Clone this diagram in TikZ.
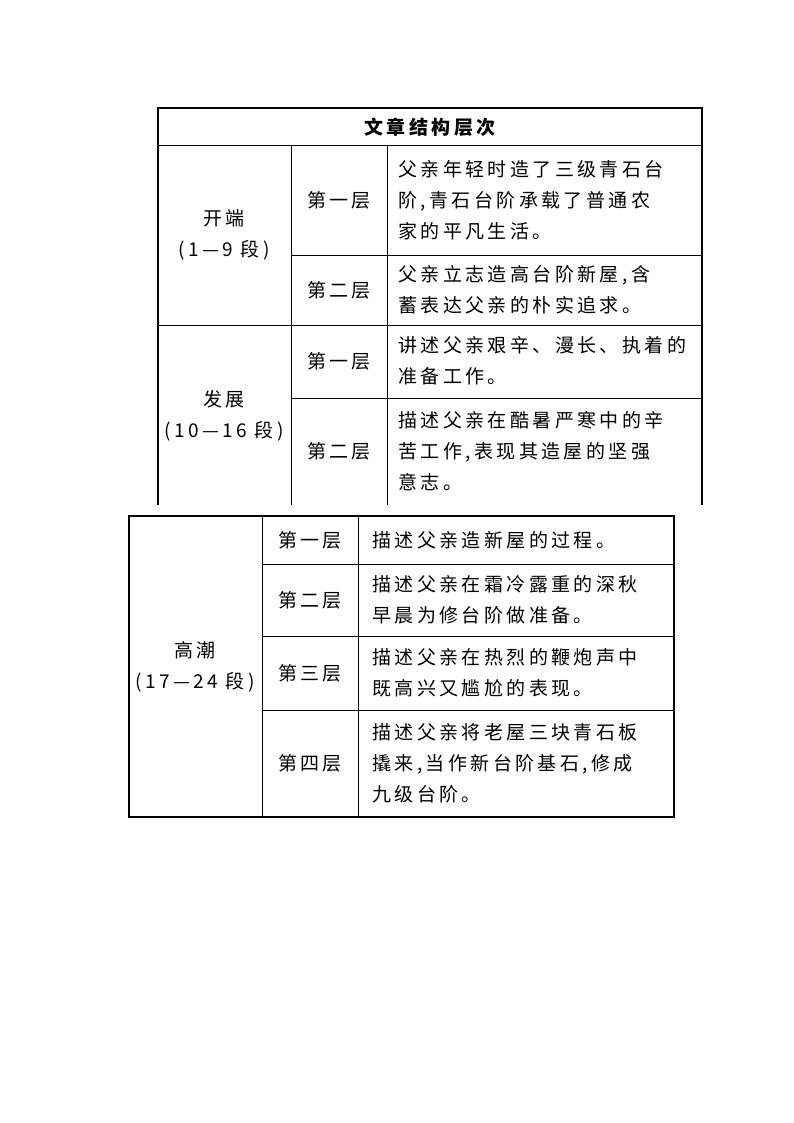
\documentclass[tikz,border=0pt]{standalone}
\usepackage{fontspec}
\setmainfont{Noto Sans CJK SC}[LetterSpace=18]
\begin{document}
\begin{tikzpicture}[x=1pt,y=-1pt,
  thick line/.style={line width=1.6pt},
  thin line/.style={line width=0.9pt},
  txt/.style={font=\fontsize{19}{31}\selectfont, align=left, anchor=west, inner sep=0pt},
  ctr/.style={font=\fontsize{19}{31}\selectfont, align=center, inner sep=0pt}]
\useasboundingbox (0,0) rectangle (794,1123);
% top table
\draw[thick line] (158,505) -- (158,108) -- (702,108) -- (702,505);
\draw[thin line] (158,145) -- (702,145);
\draw[thin line] (291,145) -- (291,505);
\draw[thin line] (387,145) -- (387,505);
\draw[thin line] (291,255) -- (702,255);
\draw[thin line] (158,325) -- (702,325);
\draw[thin line] (291,398) -- (702,398);
\node[ctr,font=\fontsize{19}{31}\selectfont\bfseries] (h) at (430,127) {文章结构层次};
\node[ctr] (a) at (224,235) {开端\\(1—9 段)};
\node[ctr] (a1) at (339,200) {第一层};
\node[ctr] (a2) at (339,290) {第二层};
\node[txt] (a1t) at (398,200) {父亲年轻时造了三级青石台\\阶,青石台阶承载了普通农\\家的平凡生活。};
\node[txt] (a2t) at (398,290) {父亲立志造高台阶新屋,含\\蓄表达父亲的朴实追求。};
\node[ctr] (b) at (224,416) {发展\\(10—16 段)};
\node[ctr] (b1) at (339,361) {第一层};
\node[ctr] (b2) at (339,451) {第二层};
\node[txt] (b1t) at (398,361) {讲述父亲艰辛、漫长、执着的\\准备工作。};
\node[txt] (b2t) at (398,451) {描述父亲在酷暑严寒中的辛\\苦工作,表现其造屋的坚强\\意志。};
% bottom table
\draw[thick line] (129,516) rectangle (674,817);
\draw[thin line] (262,516) -- (262,817);
\draw[thin line] (358,516) -- (358,817);
\draw[thin line] (262,564) -- (674,564);
\draw[thin line] (262,636) -- (674,636);
\draw[thin line] (262,710) -- (674,710);
\node[ctr] (c) at (195,667) {高潮\\(17—24 段)};
\node[ctr] (c1) at (310,540) {第一层};
\node[ctr] (c2) at (310,600) {第二层};
\node[ctr] (c3) at (310,673) {第三层};
\node[ctr] (c4) at (310,763) {第四层};
\node[txt] (c1t) at (372,540) {描述父亲造新屋的过程。};
\node[txt] (c2t) at (372,600) {描述父亲在霜冷露重的深秋\\早晨为修台阶做准备。};
\node[txt] (c3t) at (372,673) {描述父亲在热烈的鞭炮声中\\既高兴又尴尬的表现。};
\node[txt] (c4t) at (372,763) {描述父亲将老屋三块青石板\\撬来,当作新台阶基石,修成\\九级台阶。};
\end{tikzpicture}
\end{document}
